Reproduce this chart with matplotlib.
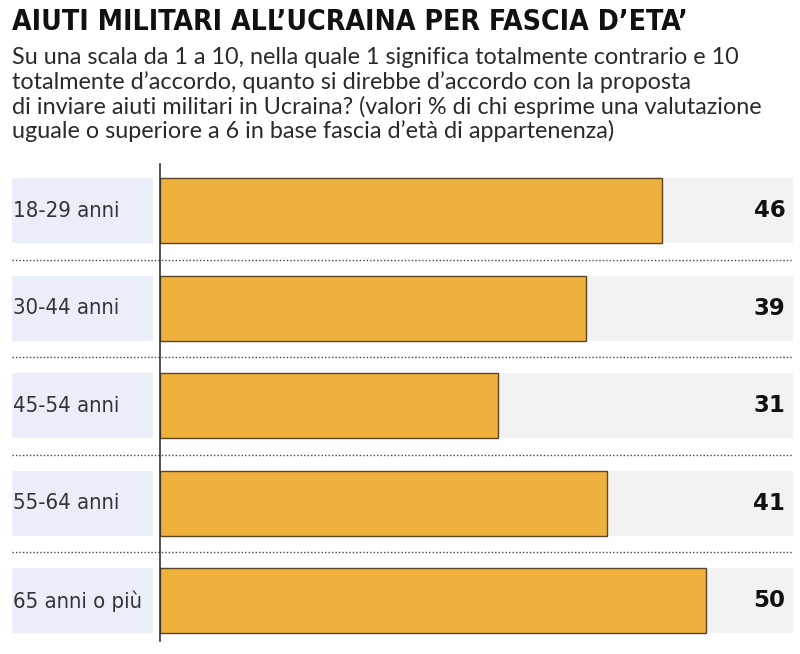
import matplotlib.pyplot as plt
from matplotlib import font_manager

# dati
titolo = "AIUTI MILITARI ALL’UCRAINA PER FASCIA D’ETA’"
sottotitolo = [
    "Su una scala da 1 a 10, nella quale 1 significa totalmente contrario e 10",
    "totalmente d’accordo, quanto si direbbe d’accordo con la proposta",
    "di inviare aiuti militari in Ucraina? (valori % di chi esprime una valutazione",
    "uguale o superiore a 6 in base fascia d’età di appartenenza)",
]
fasce = ["18-29 anni", "30-44 anni", "45-54 anni", "55-64 anni", "65 anni o più"]
valori = [46, 39, 31, 41, 50]

W, H = 800, 654

# font stretto se disponibile
cond = font_manager.findfont(font_manager.FontProperties(family="DejaVu Sans", stretch="condensed"))
if "Condensed" in cond:
    NARROW = dict(family="DejaVu Sans", fontstretch="condensed")
else:
    NARROW = dict(family="Roboto")

fig = plt.figure(figsize=(8, 6.54), dpi=100)
renderer = fig.canvas.get_renderer()


def fit(t, width_px):
    w = t.get_window_extent(renderer).width
    t.set_fontsize(t.get_fontsize() * width_px / w)
    return t.get_fontsize()


# titolo e sottotitolo
t = fig.text(12 / W, 1 - 22 / H, titolo, va="center", ha="left", fontsize=20,
             fontweight="bold", color="#111111", **NARROW)
fit(t, 672)
righe = []
for i, riga in enumerate(sottotitolo):
    righe.append(fig.text(12 / W, 1 - (58 + i * 24.4) / H, riga, va="center", ha="left",
                          fontsize=16, family=["Lato", "DejaVu Sans"], color="#2a2a2a"))
fs = fit(righe[0], 730)
for r in righe:
    r.set_fontsize(fs)

# area delle barre: x=0 a 160 px
top, bottom = 164, 647.6
ax = fig.add_axes([160 / W, 1 - bottom / H, (793 - 160) / W, (bottom - top) / H])
xmax = 58
ax.set_xlim(0, xmax)
ax.set_ylim(len(fasce) - 0.52, -0.48)
ax.axis("off")

y = list(range(len(fasce)))
h = 0.667
left_lab = -13.56

ax.barh(y, [xmax] * len(y), height=h, color="#f2f2f2", zorder=1)
ax.barh(y, [-0.64 - left_lab] * len(y), left=left_lab, height=h,
        color="#e9eef9", clip_on=False, zorder=1)
ax.barh(y, valori, height=h, color="#efb13e", edgecolor="#5b4522",
        linewidth=1, zorder=2)

# separatori tratteggiati
ax.hlines([i + 0.5 for i in y[:-1]], left_lab, xmax, colors="#444444",
          linestyles=(0, (1, 1.5)), linewidth=1, clip_on=False, zorder=3)
# linea verticale
ax.plot([0, 0], [-0.48, len(fasce) - 0.585], color="#333333", lw=1.2,
        clip_on=False, zorder=4)

etichette = []
for i, (f, v) in enumerate(zip(fasce, valori)):
    etichette.append(ax.text(left_lab + 0.1, i, f, va="center", ha="left", fontsize=17,
                             color="#333333", **NARROW))
    ax.text(xmax - 0.7, i, str(v), va="center", ha="right", fontsize=16.5,
            fontweight="bold", color="#111111")
fs = fit(etichette[0], 106)
for e in etichette:
    e.set_fontsize(fs)

fig.savefig("out.png", dpi=100)
